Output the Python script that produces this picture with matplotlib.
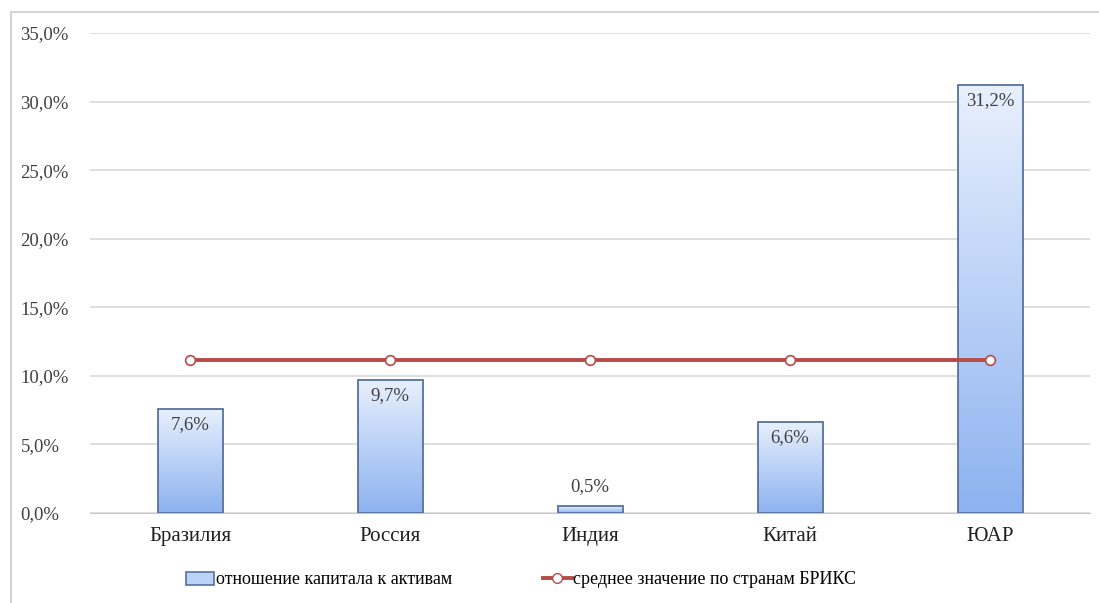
import matplotlib.pyplot as plt
import numpy as np
from matplotlib.patches import Rectangle
from matplotlib.lines import Line2D
from matplotlib.colors import LinearSegmentedColormap

countries = ['Бразилия', 'Россия', 'Индия', 'Китай', 'ЮАР']
capital_ratio = [7.6, 9.7, 0.5, 6.6, 31.2]
brics_avg = [11.12, 11.12, 11.12, 11.12, 11.12]
yticks = [0, 5, 10, 15, 20, 25, 30, 35]

plt.rcParams['font.family'] = ['Liberation Serif', 'DejaVu Serif']

fig = plt.figure(figsize=(10.99, 6.03), dpi=100)
ax = fig.add_axes([90/1099, 1-513/603, 1000/1099, 480/603])

# chart frame (runs off the right and bottom edges)
fig.patches.append(Rectangle((11/1099, -10/603), 1110/1099, 601/603, transform=fig.transFigure,
                             fill=False, edgecolor='#d4d4d4', lw=1.5))

x = np.arange(len(countries))
w = 0.325
bars = ax.bar(x, capital_ratio, width=w, color='none', edgecolor='#56729c', lw=1.3, zorder=3)

grad = LinearSegmentedColormap.from_list('g', ['#8db2f0', '#e8f0fd'])
img = np.linspace(0, 1, 256).reshape(-1, 1)
for b in bars:
    x0, y0 = b.get_x(), b.get_y()
    im = ax.imshow(img, cmap=grad, origin='lower', aspect='auto',
                   extent=[x0, x0 + b.get_width(), y0, y0 + b.get_height()], zorder=2)
    im.set_clip_path(b)

ax.plot(x, brics_avg, color='#b84a48', lw=2.8, marker='o', ms=7,
        mfc='white', mec='#b84a48', mew=1.2, zorder=4)

for xi, v in zip(x, capital_ratio):
    txt = f'{v:.1f}%'.replace('.', ',')
    if v < 3:
        ax.text(xi, v + 0.8, txt, ha='center', va='bottom', fontsize=13.5, color='#404040', zorder=5)
    else:
        ax.text(xi, v - 0.5, txt, ha='center', va='top', fontsize=13.5, color='#404040', zorder=5)

ax.set_xlim(-0.5, 4.5)
ax.set_ylim(0, 35)
ax.set_yticks(yticks)
ax.set_yticklabels([f'{t:.1f}%'.replace('.', ',') for t in yticks], fontsize=13.5, color='#404040')
ax.set_xticks(x)
ax.set_xticklabels(countries, fontsize=15, color='#202020')
ax.tick_params(axis='both', length=0, pad=10)
ax.tick_params(axis='y', pad=50)
for lab in ax.get_yticklabels():
    lab.set_horizontalalignment('left')
ax.grid(axis='y', color='#d9d9d9', lw=1.2, zorder=0)
ax.set_axisbelow(True)
for s in ['top', 'right', 'left']:
    ax.spines[s].set_visible(False)
ax.spines['bottom'].set_color('#c8c8c8')

handles = [Rectangle((0, 0), 1, 1, facecolor='#bcd3f8', edgecolor='#56729c', lw=1.2),
           Line2D([], [], color='#b84a48', lw=2.8, marker='o', ms=7, mfc='white', mec='#b84a48')]
fig.legend(handles, ['отношение капитала к активам', 'среднее значение по странам БРИКС'],
           loc='center', bbox_to_anchor=(521/1099, 1-580/603), ncol=2, frameon=False,
           fontsize=13, handlelength=1.6, handletextpad=0.1, columnspacing=5)

fig.savefig('out.png', dpi=100)
